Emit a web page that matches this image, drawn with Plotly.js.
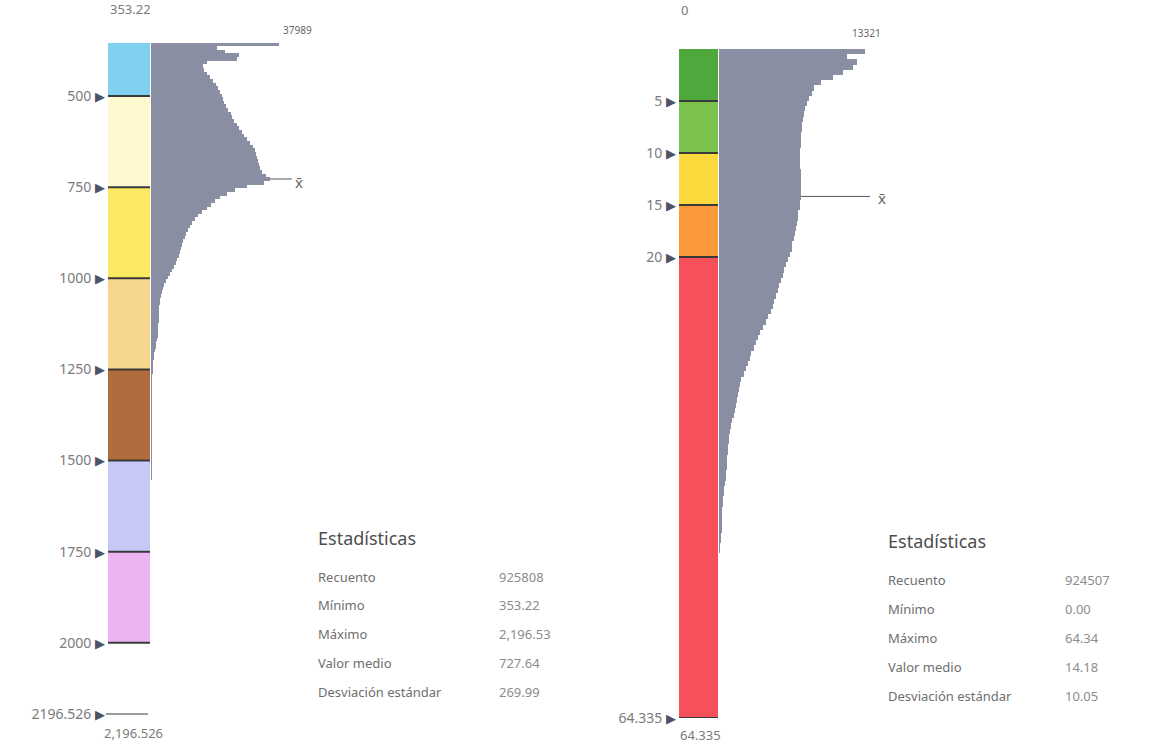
<!DOCTYPE html>
<html>
<head>
<meta charset="utf-8">
<script src="https://cdn.plot.ly/plotly-3.0.1.min.js"></script>
<style>html,body{margin:0;padding:0;background:#fff;}#chart{width:1151px;height:748px;}</style>
</head>
<body>
<div id="chart"></div>
<script>
// ---------- DATA ----------
// Left raster: class breaks, colours, histogram
const leftBreaks = [353.22, 500, 750, 1000, 1250, 1500, 1750, 2000];
const leftMax = 2196.526;
const leftMean = 727.64;
const leftMaxCount = 37989;
const leftClassColors = ['#80d0f0', '#fff9d2', '#fde862', '#f6d68c', '#b06c3c', '#c8c8f6', '#ecb4f2'];
const leftTickVals = [500, 750, 1000, 1250, 1500, 1750, 2000, 2196.526];
const leftTickText = ['500', '750', '1000', '1250', '1500', '1750', '2000', '2196.526'];
const leftBinStart = 353.22;
const leftBinWidth = 10;
const leftCounts = [
  37989, 19600, 22000, 26100, 25500, 16600, 15400, 15800, 16700, 17500,
  18300, 19300, 20000, 20500, 21000, 21400, 21800, 22300, 22900, 23600,
  24100, 24700, 25400, 26200, 26900, 27600, 28400, 29300, 30200, 30800,
  31200, 31600, 31900, 32100, 32400, 32900, 34000, 35300, 33500, 28500,
  25000, 22500, 20500, 19000, 17700, 16500, 15200, 14000, 13100, 12300,
  11600, 11000, 10500, 10000, 9600, 9300, 9000, 8600, 8200, 7800,
  7300, 6800, 6300, 5700, 5100, 4500, 4000, 3600, 3200, 2900,
  2700, 2600, 2500, 2450, 2400, 2350, 2300, 2200, 2150, 2100,
  1950, 1750, 1550, 1350, 1150, 950, 800, 650, 550, 480,
  450, 430, 420, 410, 400, 390, 380, 370, 360, 350,
  345, 340, 335, 330, 325, 320, 315, 310, 305, 300,
  295, 290, 285, 280, 275, 270, 265, 260, 255, 250, 120
];
const leftStatsLabels = ['Recuento', 'Mínimo', 'Máximo', 'Valor medio', 'Desviación estándar'];
const leftStatsValues = ['925808', '353.22', '2,196.53', '727.64', '269.99'];

// Right raster
const rightBreaks = [0, 5, 10, 15, 20, 64.335];
const rightMax = 64.335;
const rightMean = 14.18;
const rightMaxCount = 13321;
const rightClassColors = ['#4ea83c', '#7cc24e', '#fcd93c', '#fb983c', '#f6515a'];
const rightTickVals = [5, 10, 15, 20, 64.335];
const rightTickText = ['5', '10', '15', '20', '64.335'];
const rightBinStart = 0;
const rightBinWidth = 0.5;
const rightCounts = [
  13321, 11650, 12600, 12200, 11300, 10400, 9300, 8700, 8450, 8250,
  8050, 7850, 7750, 7700, 7600, 7550, 7500, 7450, 7450, 7400,
  7400, 7400, 7400, 7450, 7450, 7500, 7500, 7500, 7450, 7400,
  7350, 7250, 7200, 7100, 7000, 6900, 6800, 6700, 6650, 6450,
  6250, 6100, 5950, 5800, 5650, 5500, 5350, 5200, 5050, 4900,
  4700, 4500, 4250, 4000, 3750, 3550, 3350, 3150, 2950, 2800,
  2650, 2500, 2300, 2050, 1900, 1800, 1720, 1650, 1550, 1450,
  1330, 1220, 1120, 1020, 950, 880, 830, 790, 750, 720,
  700, 650, 600, 550, 480, 420, 360, 330, 300, 280,
  265, 255, 245, 200, 150, 100, 60
];
const rightStatsLabels = ['Recuento', 'Mínimo', 'Máximo', 'Valor medio', 'Desviación estándar'];
const rightStatsValues = ['924507', '0.00', '64.34', '14.18', '10.05'];

// ---------- LAYOUT HELPERS ----------
const W = 1151, H = 748;
const px = v => v / W;          // x pixel -> paper
const py = v => 1 - v / H;      // y pixel -> paper
const FONT = 'Noto Sans, Open Sans, sans-serif';
const HIST_GRAY = '#8a8ea2';
const TXT = '#7b7b7b';
const TRI = '#4d5364';

function tickTexts(arr) {
  return arr.map(t => t + ' <span style="color:' + TRI + ';font-size:13px">▶</span>');
}
function centers(start, width, n) {
  const out = [];
  for (let i = 0; i < n; i++) out.push(start + width * (i + 0.5));
  return out;
}

// ---------- TRACES ----------
const traces = [];
traces.push({
  type: 'bar', xaxis: 'x3', yaxis: 'y',
  x: leftClassColors.map(() => 0),
  base: leftBreaks.slice(0, -1),
  y: leftBreaks.slice(1).map((b, i) => b - leftBreaks[i]),
  width: 1,
  marker: {color: leftClassColors, line: {width: 0}},
  hoverinfo: 'skip'
});
traces.push({
  type: 'bar', orientation: 'h', xaxis: 'x', yaxis: 'y',
  x: leftCounts,
  y: centers(leftBinStart, leftBinWidth, leftCounts.length),
  width: leftBinWidth,
  marker: {color: HIST_GRAY, line: {width: 0}},
  hoverinfo: 'skip'
});
traces.push({
  type: 'bar', xaxis: 'x4', yaxis: 'y2',
  x: rightClassColors.map(() => 0),
  base: rightBreaks.slice(0, -1),
  y: rightBreaks.slice(1).map((b, i) => b - rightBreaks[i]),
  width: 1,
  marker: {color: rightClassColors, line: {width: 0}},
  hoverinfo: 'skip'
});
traces.push({
  type: 'bar', orientation: 'h', xaxis: 'x2', yaxis: 'y2',
  x: rightCounts,
  y: centers(rightBinStart, rightBinWidth, rightCounts.length),
  width: rightBinWidth,
  marker: {color: HIST_GRAY, line: {width: 0}},
  hoverinfo: 'skip'
});

// ---------- SHAPES ----------
const shapes = [];
leftBreaks.slice(1).forEach(b => shapes.push({
  type: 'line', xref: 'x3 domain', yref: 'y', x0: 0, x1: 1, y0: b, y1: b,
  line: {color: '#3a3a3a', width: 2}
}));
shapes.push({type: 'line', xref: 'x3 domain', yref: 'y', x0: -0.05, x1: 0.95, y0: leftMax, y1: leftMax,
  line: {color: '#3a3a3a', width: 2}});
rightBreaks.slice(1).forEach(b => shapes.push({
  type: 'line', xref: 'x4 domain', yref: 'y2', x0: 0, x1: 1, y0: b, y1: b,
  line: {color: '#3a3a3a', width: 2}
}));
shapes.push({type: 'line', layer: 'below', xref: 'paper', yref: 'y', x0: px(151), x1: px(292), y0: leftMean, y1: leftMean,
  line: {color: '#555', width: 1}});
shapes.push({type: 'line', layer: 'below', xref: 'paper', yref: 'y2', x0: px(719), x1: px(870), y0: rightMean, y1: rightMean,
  line: {color: '#555', width: 1}});

// ---------- ANNOTATIONS ----------
const ann = [];
function txt(x, y, text, size, color, anchor) {
  ann.push({xref: 'paper', yref: 'paper', x: px(x), y: py(y), text: text, showarrow: false,
    xanchor: anchor || 'center', yanchor: 'middle', font: {family: FONT, size: size, color: color}});
}
txt(130, 9, String(leftBreaks[0]), 13, TXT);
txt(297, 30, String(leftMaxCount), 10, '#666');
txt(299, 182, 'x̄', 15, '#666');
txt(133, 733, '2,196.526', 13, TXT);
txt(684, 10, String(rightBreaks[0]), 13, TXT);
txt(866, 33, String(rightMaxCount), 10, '#666');
txt(882, 198, 'x̄', 15, '#666');
txt(700, 735, '64.335', 13, TXT);

function stats(xl, xv, yh, rows, labels, values) {
  txt(xl, yh, 'Estadísticas', 18, '#4e4e4e', 'left');
  labels.forEach((l, i) => {
    txt(xl, rows[i], l, 13, '#6e6e6e', 'left');
    txt(xv, rows[i], values[i], 13, '#8c8c8c', 'left');
  });
}
stats(316, 497, 538, [577, 605, 634, 663, 692], leftStatsLabels, leftStatsValues);
stats(886, 1063, 541, [580, 609, 638, 667, 696], rightStatsLabels, rightStatsValues);

// ---------- LAYOUT ----------
const hiddenX = {visible: false, showgrid: false, zeroline: false, fixedrange: true};
const tickFont = {family: FONT, size: 14, color: TXT};
const layout = {
  width: W, height: H,
  margin: {l: 0, r: 0, t: 0, b: 0},
  paper_bgcolor: '#ffffff', plot_bgcolor: 'rgba(0,0,0,0)',
  showlegend: false, barmode: 'overlay', bargap: 0,
  font: {family: FONT, color: TXT},
  xaxis: Object.assign({}, hiddenX, {domain: [px(151), px(279)], range: [0, leftMaxCount], anchor: 'y'}),
  xaxis3: Object.assign({}, hiddenX, {domain: [px(108), px(150)], range: [-0.5, 0.5], anchor: 'y'}),
  yaxis: {domain: [py(714.5), py(42.5)], range: [leftMax, leftBreaks[0]], anchor: 'x3', side: 'left',
    showgrid: false, zeroline: false, showline: false, ticks: '', ticklabelstandoff: 2,
    tickvals: leftTickVals, ticktext: tickTexts(leftTickText), tickfont: tickFont},
  xaxis2: Object.assign({}, hiddenX, {domain: [px(719), px(865)], range: [0, rightMaxCount], anchor: 'y2'}),
  xaxis4: Object.assign({}, hiddenX, {domain: [px(679), px(718)], range: [-0.5, 0.5], anchor: 'y2'}),
  yaxis2: {domain: [py(718), py(49)], range: [rightMax, rightBreaks[0]], anchor: 'x4', side: 'left',
    showgrid: false, zeroline: false, showline: false, ticks: '', ticklabelstandoff: 2,
    tickvals: rightTickVals, ticktext: tickTexts(rightTickText), tickfont: tickFont},
  shapes: shapes,
  annotations: ann
};

Plotly.newPlot('chart', traces, layout, {staticPlot: true, displayModeBar: false});
</script>
</body>
</html>
